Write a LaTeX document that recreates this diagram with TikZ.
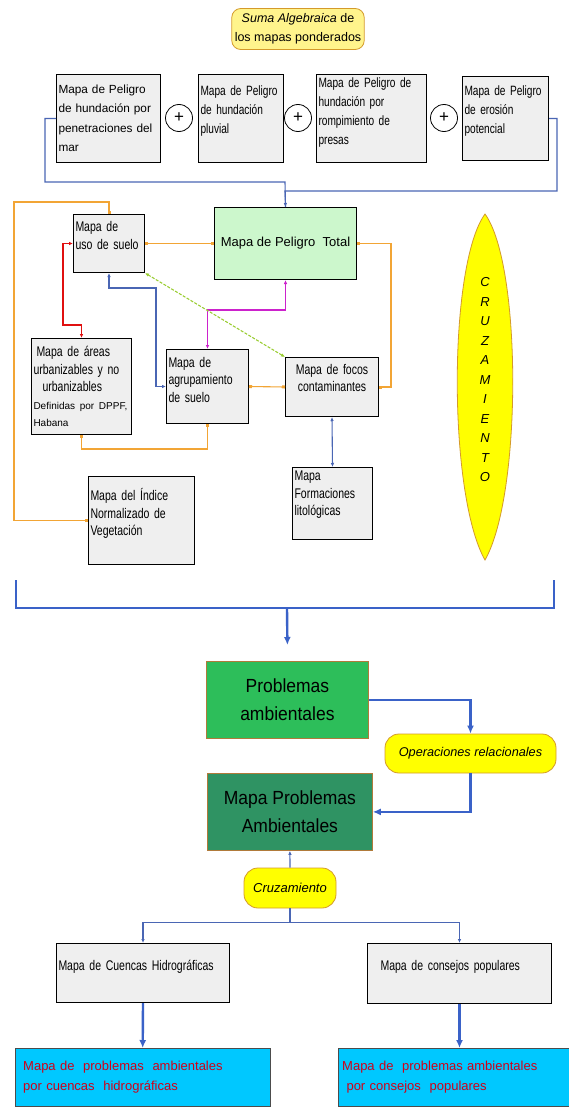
\documentclass[tikz,border=0pt]{standalone}
\usepackage{fontspec}
\setmainfont{Liberation Sans}
\newfontfamily\narrowfont[FakeStretch=0.75]{Liberation Sans}
\newfontfamily\widefont[FakeStretch=0.92]{Liberation Sans}
\usetikzlibrary{arrows.meta}

\newcommand\setfs[2]{\fontsize{#1}{#2}\selectfont}

\definecolor{boxgray}{HTML}{EFEFEF}
\definecolor{peligrogreen}{HTML}{CCF7CC}
\definecolor{probgreen}{HTML}{2DBE5A}
\definecolor{mapgreen}{HTML}{2F9363}
\definecolor{ovalyellow}{HTML}{FFFF00}
\definecolor{paleyellow}{HTML}{FFF48C}
\definecolor{ovalrim}{HTML}{D49A2A}
\definecolor{rimbrown}{HTML}{B07A3A}
\definecolor{linkblue}{HTML}{4A66B4}
\definecolor{thickblue}{HTML}{3A62C8}
\definecolor{linkorange}{HTML}{F2A535}
\definecolor{linkred}{HTML}{E01010}
\definecolor{linkmagenta}{HTML}{CC22CC}
\definecolor{linkyg}{HTML}{9ACD32}
\definecolor{cyanbox}{HTML}{00C8FF}
\definecolor{cyantext}{HTML}{D00018}

\begin{document}
\begin{tikzpicture}[x=1pt, y=-1pt, >={Latex[length=4pt,width=3.5pt]},
  mapbox/.style={draw, line width=1pt, fill=boxgray, anchor=north west, inner sep=2pt,
    align=left, font=\narrowfont\setfs{14}{17.5}},
  topbox/.style={mapbox, font=\narrowfont\setfs{13.5}{19}, minimum height=88pt},
  plus/.style={draw, circle, line width=0.8pt, minimum size=27pt, inner sep=0pt, font=\setfs{17}{17}},
  oval/.style={draw=ovalrim, line width=0.8pt, fill=ovalyellow, rounded corners=14pt, inner sep=3pt,
    align=center, font=\itshape\setfs{12.7}{15}},
  bigbox/.style={draw=rimbrown, line width=0.8pt, anchor=north west, align=center,
    font=\widefont\setfs{19}{28}},
  resbox/.style={fill=cyanbox, draw=black!70, anchor=north west, align=left, inner sep=4pt,
    text=cyantext, font=\setfs{13}{20}},
  lnk/.style={line width=1.1pt, <->},
  sqlnk/.style={linkorange, line width=1.1pt, {Square[length=3pt,width=3pt]}-{Square[length=3pt,width=3pt]}},
  topline/.style={linkblue, line width=1.1pt},
  flow/.style={thickblue, line width=2.4pt, -{Latex[length=8pt,width=7pt]}}]
  \useasboundingbox[fill=white] (0,0) rectangle (569,1108);

  % suma de los mapas de peligro
  \node[oval, fill=paleyellow, rounded corners=9pt, minimum width=130pt, minimum height=41pt,
    font=\setfs{12.5}{19}] (suma) at (298,29) {\textit{Suma Algebraica} de\\los mapas ponderados};
  \node[mapbox, font=\setfs{11.8}{19.5}, minimum width=104pt, minimum height=88pt, text width=100pt]
    (pen) at (56,74) {Mapa de Peligro\\de hundación por\\penetraciones del\\mar};
  \node[plus] (p1) at (179,118) {+};
  \node[topbox, minimum width=85pt, text width=81pt, text depth=56.7pt]
    (plu) at (198,74) {Mapa de Peligro\\de hundación\\pluvial};
  \node[plus] (p2) at (298,118) {+};
  \node[topbox, minimum width=110pt, text width=106pt, text depth=71pt]
    (pre) at (316,74) {Mapa de Peligro de\\hundación por\\rompimiento de\\presas};
  \node[plus] (p3) at (444,118) {+};
  \node[topbox, minimum width=86pt, minimum height=84pt, text width=82pt, text depth=56.7pt]
    (ero) at (462,76) {Mapa de Peligro\\de erosión\\potencial};

  % peligro total y mapas de cruzamiento
  \node[draw, line width=1pt, fill=peligrogreen, anchor=north west, minimum width=142pt,
    minimum height=72pt, font=\setfs{13}{16}] (total) at (214,207) {Mapa de Peligro\ \ Total};
  \node[mapbox, minimum width=71pt, minimum height=58pt, text width=67pt, text depth=33.5pt]
    (uso) at (73,214) {Mapa de\\uso de suelo};
  \node[mapbox, minimum width=100pt, minimum height=96pt, text width=96pt]
    (areas) at (31,338) {\hspace*{3pt}Mapa de áreas\\urbanizables y no\\\hspace*{9pt}urbanizables\\
    \normalfont\setfs{10}{17.5}Definidas por DPPF,\\Habana};
  \node[mapbox, minimum width=82pt, minimum height=74pt, text width=78pt, text depth=49pt]
    (agr) at (166,349) {Mapa de\\agrupamiento\\de suelo};
  \node[mapbox, align=center, minimum width=93pt, minimum height=59pt, text width=89pt, text depth=35.5pt]
    (foc) at (285,357) {Mapa de focos\\contaminantes};
  \node[mapbox, minimum width=80pt, minimum height=72pt, text width=76pt, text depth=54.7pt]
    (form) at (292,467) {Mapa\\Formaciones\\litológicas};
  \node[mapbox, minimum width=106pt, minimum height=88pt, text width=102pt, text depth=51.7pt]
    (ndvi) at (88,476) {Mapa del Índice\\Normalizado de\\Vegetación};

  % huso de cruzamiento
  \draw[ovalrim, line width=0.8pt, fill=ovalyellow] (485,214) .. controls (522,265) and (522,495) .. (485,560)
    .. controls (448,495) and (448,265) .. (485,214) -- cycle;
  \node[font=\itshape\setfs{13}{19.5}, align=center] (cruzt) at (485,380)
    {C\\R\\U\\Z\\A\\M\\I\\E\\N\\T\\O};

  % suma hacia peligro total
  \coordinate (mL) at (285,182);
  \coordinate (mR) at (285,191);
  \draw[topline] (pen.west) -- ++(-11,0) |- (mL) -- (total.north);
  \draw[topline, ->] (ero.east) -- ++(8,0) |- (mR) -- (total.north);

  % enlaces entre mapas
  \draw[sqlnk] (uso.east) -- (total.west);
  \draw[sqlnk] (uso.north) -- ++(0,-12) -| ([xshift=-74pt]ndvi.west) -- (ndvi.west);
  \draw[lnk, linkred] (uso.west) -- ++(-10,0) |- ([yshift=13pt]areas.north) -- (areas.north);
  \draw[lnk, linkblue] (uso.south) -- ++(0,15) -| ([xshift=-10pt]agr.west) -- (agr.west);
  \draw[lnk, linkmagenta] (total.south) -- ++(0,30) -| (agr.north);
  \draw[lnk, linkyg, dash pattern=on 3pt off 1.5pt] (uso.south east) -- (foc.north west);
  \draw[sqlnk] (agr.east) -- (foc.west);
  \draw[sqlnk] (total.east) -- ++(34,0) |- (foc.east);
  \draw[sqlnk] (areas.south) -- ++(0,14) -| (agr.south);
  \draw[lnk, linkblue] (foc.south) -- (form.north);

  % problemas ambientales
  \node[bigbox, fill=probgreen, minimum width=162pt, minimum height=77pt]
    (prob) at (206,661) {Problemas\\ambientales};
  \node[oval, minimum width=171pt, minimum height=39pt] (ops) at (470.5,753.5) {Operaciones relacionales};
  \node[bigbox, fill=mapgreen, minimum width=165pt, minimum height=77pt]
    (mpa) at (207,773) {Mapa Problemas\\Ambientales};
  \node[oval, minimum width=92pt, minimum height=40pt, font=\itshape\setfs{13}{15}] (cruz) at (290,888) {Cruzamiento};

  \coordinate (brL) at (16,580);
  \coordinate (brR) at (554,580);
  \coordinate (brM) at (287,608);
  \draw[thickblue, line width=2.4pt] (brL) |- (brR |- brM) -- (brR);
  \draw[flow] (brM) -- ([yshift=16pt]prob.north);
  \draw[flow] (prob.east) -| (ops.north);
  \draw[flow] (ops.south) |- (mpa.east);
  \draw[topline, <-] (mpa.south) -- (cruz.north);

  % mapas finales
  \node[mapbox, minimum width=173pt, minimum height=59pt, text width=169pt, text depth=15.7pt]
    (cue) at (56,943) {Mapa de Cuencas Hidrográficas};
  \node[mapbox, minimum width=184pt, minimum height=60pt, text width=180pt, text depth=15.7pt]
    (con) at (367,943) {\hspace*{11pt}Mapa de consejos populares};
  \draw[topline, ->] (cruz.south) -- ++(0,14) -| (cue.north);
  \draw[topline, ->] (cruz.south) -- ++(0,14) -| (con.north);

  \node[resbox, minimum width=255pt, minimum height=58pt, text width=247pt]
    (cyL) at (15,1048) {\hspace*{4pt}Mapa de\ \ problemas\ \ ambientales\\\hspace*{4pt}por cuencas\ \ hidrográficas};
  \node[resbox, minimum width=231pt, minimum height=58pt, text width=223pt]
    (cyR) at (338,1048) {Mapa de\ \ problemas ambientales\\\ por consejos\ \ populares};
  \draw[flow] (cue.south) -- (cyL.north);
  \draw[flow] (con.south) -- (con.south |- cyR.north);
\end{tikzpicture}
\end{document}
